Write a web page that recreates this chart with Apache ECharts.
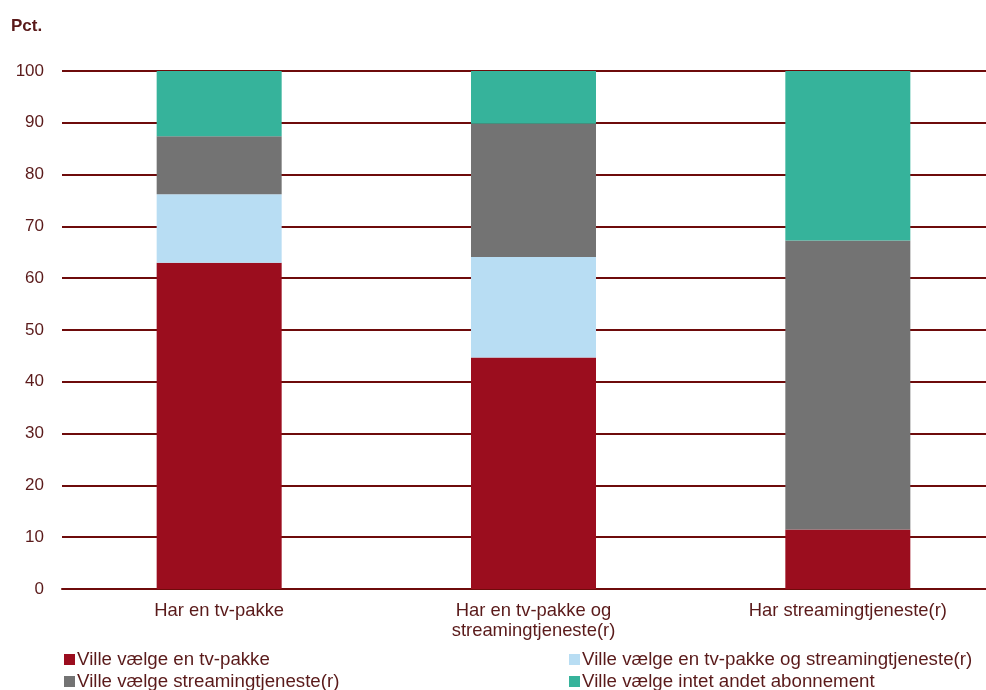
<!DOCTYPE html>
<html>
<head>
<meta charset="utf-8">
<script src="https://cdn.jsdelivr.net/npm/echarts@6/dist/echarts.min.js"></script>
<style>
  html, body { margin: 0; padding: 0; background: #fff; overflow: hidden; }
  /* the plot area runs past the right edge of the window */
  #chart { width: 1005px; height: 690px; }
</style>
</head>
<body>
<div id="chart"></div>
<script>
// Categories (x axis)
const categories = ['Har en tv-pakke', 'Har en tv-pakke og\nstreamingtjeneste(r)', 'Har streamingtjeneste(r)'];

// Shares in percent, stacked from the bottom
const tvPakke = [63.0, 44.7, 11.5];
const tvOgStreaming = [13.2, 19.4, 0];
const streaming = [11.2, 25.7, 55.8];
const intet = [12.6, 10.2, 32.7];

const seriesNames = [
  'Ville vælge en tv-pakke',
  'Ville vælge en tv-pakke og streamingtjeneste(r)',
  'Ville vælge streamingtjeneste(r)',
  'Ville vælge intet andet abonnement'
];

const yTicks = { min: 0, max: 100, interval: 10 };

const textColor = '#5a1a1a';
const gridColor = '#6e0b0b';
const colors = ['#9b0d1e', '#b8ddf3', '#737373', '#36b39b'];
const fontFamily = 'Liberation Sans, Arial, sans-serif';

const chart = echarts.init(document.getElementById('chart'), null, { renderer: 'canvas' });

const values = [tvPakke, tvOgStreaming, streaming, intet];

// Legend laid out as two columns, two rows
const legendPos = [
  { left: 64, top: 650 },
  { left: 569, top: 650 },
  { left: 64, top: 672 },
  { left: 569, top: 672 }
];

chart.setOption({
  animation: false,
  textStyle: { fontFamily: fontFamily },
  title: {
    text: 'Pct.',
    left: 6,
    top: 13,
    textStyle: { fontFamily: fontFamily, fontSize: 17, fontWeight: 'bold', color: textColor }
  },
  grid: { left: 62, right: 0, top: 71, bottom: 101, containLabel: false },
  legend: seriesNames.map((name, i) => ({
    left: legendPos[i].left,
    top: legendPos[i].top,
    padding: 0,
    itemWidth: 11,
    itemHeight: 11,
    itemGap: 0,
    icon: 'rect',
    data: [name],
    textStyle: { fontFamily: fontFamily, fontSize: 18.7, color: textColor, padding: [0, 0, 0, -3] }
  })),
  xAxis: {
    type: 'category',
    data: categories,
    axisLine: { show: true, lineStyle: { color: gridColor, width: 2 } },
    axisTick: { show: false },
    axisLabel: {
      color: textColor,
      fontSize: 18.4,
      fontFamily: fontFamily,
      margin: 12,
      lineHeight: 20,
      interval: 0
    }
  },
  yAxis: {
    type: 'value',
    min: yTicks.min,
    max: yTicks.max,
    interval: yTicks.interval,
    axisLine: { show: false },
    axisTick: { show: false },
    splitLine: { lineStyle: { color: gridColor, width: 2 } },
    axisLabel: { color: textColor, fontSize: 17, fontFamily: fontFamily, margin: 18 }
  },
  series: seriesNames.map((name, i) => ({
    name: name,
    type: 'bar',
    stack: 'total',
    barWidth: 125,
    data: values[i],
    itemStyle: { color: colors[i] }
  }))
});
</script>
</body>
</html>
